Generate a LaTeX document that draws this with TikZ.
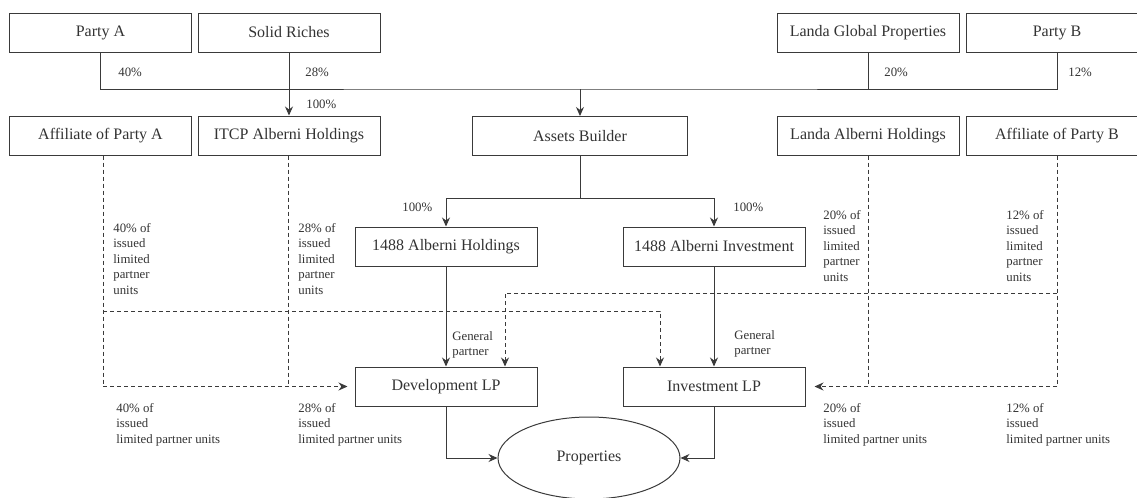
\documentclass[tikz,border=0pt]{standalone}
\usepackage{fontspec}
\setmainfont{Liberation Serif}
\usetikzlibrary{arrows.meta,positioning,calc,shapes.geometric}
\definecolor{orgInk}{HTML}{333333}
\definecolor{orgLine}{HTML}{3A3A3A}
\tikzset{
  ent/.style={draw=orgLine, line width=0.5pt, minimum width=91pt, minimum height=19.5pt, inner sep=0pt, font=\fontsize{8}{9.6}\selectfont, text=orgInk},
  entW/.style={ent, minimum width=107.5pt},
  estate/.style={ent, ellipse, minimum width=91pt, minimum height=41pt},
  pct/.style={inner sep=0pt, anchor=west, font=\fontsize{6.4}{7.7}\selectfont, text=orgInk},
  note/.style={pct, anchor=north west, align=left},
  lnk/.style={draw=orgLine, line width=0.5pt},
  arr/.style={lnk, -{Stealth[length=4.5pt,width=4pt]}},
  dsh/.style={lnk, dash pattern=on 2pt off 1.5pt},
  darr/.style={arr, dash pattern=on 2pt off 1.5pt},
}
\begin{document}
\begin{tikzpicture}[x=0.5pt,y=-0.5pt]
  \useasboundingbox (0,0) rectangle (1137,498);
  \node[ent] (pa) at (100.5,32.5) {Party A};
  \node[ent] (sr) at (289,32.5) {Solid Riches};
  \node[ent] (lgp) at (868,32.5) {Landa Global Properties};
  \node[ent] (pb) at (1057,32.5) {Party B};
  \node[ent] (afa) at (100.5,135.5) {Affiliate of Party A};
  \node[ent] (itcp) at (289,135.5) {ITCP Alberni Holdings};
  \node[entW] (ab) at (580,136) {Assets Builder};
  \node[ent] (lah) at (868,135.5) {Landa Alberni Holdings};
  \node[ent] (afb) at (1057,135.5) {Affiliate of Party B};
  \node[ent] (ahold) at (446,246.5) {1488 Alberni Holdings};
  \node[ent] (ainv) at (714,246.5) {1488 Alberni Investment};
  \node[ent] (dlp) at (446,386.5) {Development LP};
  \node[ent] (ilp) at (714,386.5) {Investment LP};
  \node[estate] (prop) at (589,458) {Properties};
  \coordinate (bus) at (582,89);
  \coordinate (split) at (582,198);
  \coordinate (lpA) at (660,311);
  \coordinate (lpB) at (505,293);
  \draw[lnk] (pa.south) |- (bus) -| (pb.south);
  \draw[lnk] (lgp.south) -- (lgp.south |- bus);
  \draw[arr] (sr.south) -- (itcp.north);
  \draw[arr] (ab.north |- bus) -- (ab.north);
  \draw[lnk] (ab.south) -- (ab.south |- split);
  \draw[arr] (ab.south |- split) -| (ahold.north);
  \draw[arr] (ab.south |- split) -| (ainv.north);
  \foreach \u/\v in {ahold/dlp,ainv/ilp} \draw[arr] (\u) -- (\v);
  \draw[arr] (dlp.south) |- (prop.west);
  \draw[arr] (ilp.south) |- (prop.east);
  \draw[darr, shorten >=3.5pt] ([xshift=1.25pt]afa.south) |- (dlp.west);
  \draw[dsh] ([xshift=-0.5pt]itcp.south) -- ([xshift=-0.5pt]itcp.south |- dlp.west);
  \draw[darr] ([xshift=1.25pt]afa.south |- lpA) -- (lpA) -- (lpA |- ilp.north);
  \draw[darr, shorten >=4.5pt] (lah.south) |- (ilp.east);
  \draw[dsh] (afb.south) |- (lah.south |- ilp.east);
  \draw[darr] (afb.south |- lpB) -- (lpB) -- (lpB |- dlp.north);
  \node[pct] (pA) at (118,72) {40\%};
  \node[pct] (pS) at (305,72) {28\%};
  \node[pct] (pI) at (306,104) {100\%};
  \node[pct] (pL) at (884,72) {20\%};
  \node[pct] (pB) at (1068,72) {12\%};
  \node[pct] (pH) at (402,207) {100\%};
  \node[pct] (pV) at (733,207) {100\%};
  \node[note] (uA) at (113,223) {40\% of\\issued\\limited\\partner\\units};
  \node[note] (uS) at (298,223) {28\% of\\issued\\limited\\partner\\units};
  \node[note] (uL) at (823,210) {20\% of\\issued\\limited\\partner\\units};
  \node[note] (uB) at (1006,210) {12\% of\\issued\\limited\\partner\\units};
  \node[note] (dA) at (116,403) {40\% of\\issued\\limited partner units};
  \node[note] (dS) at (298,403) {28\% of\\issued\\limited partner units};
  \node[note] (dL) at (823,403) {20\% of\\issued\\limited partner units};
  \node[note] (dB) at (1006,403) {12\% of\\issued\\limited partner units};
  \node[note] (gH) at (452,331) {General\\partner};
  \node[note] (gV) at (734,330) {General\\partner};
\end{tikzpicture}
\end{document}
